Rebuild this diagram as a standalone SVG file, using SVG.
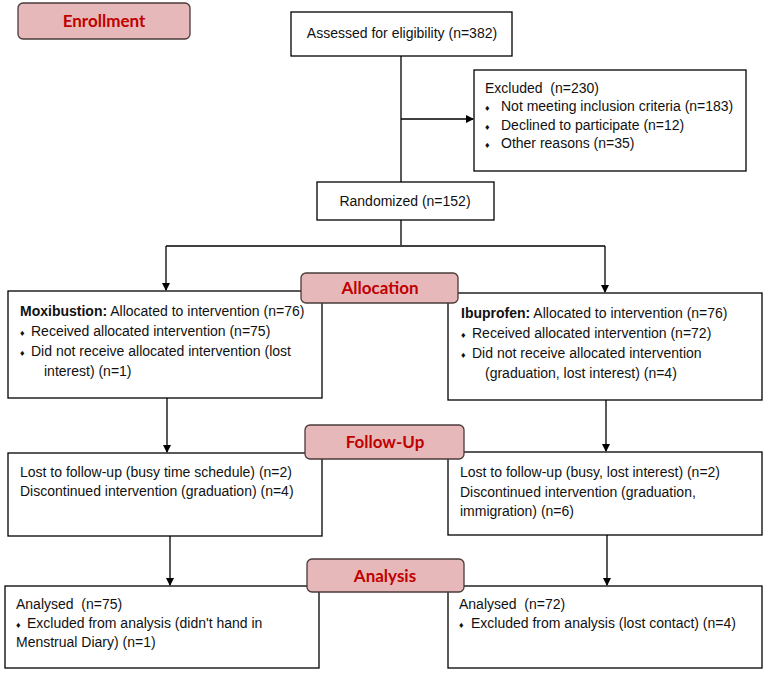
<svg xmlns="http://www.w3.org/2000/svg" width="768" height="674" viewBox="0 0 768 674">
<style>
.box{fill:#fff;stroke:#000;stroke-width:1.3}
.lab{fill:#e6b8b9;stroke:#4a3a3a;stroke-width:1.3}
.lt{font-family:Lato,"Open Sans",sans-serif;font-weight:bold;font-size:17px;fill:#c00000;text-anchor:middle}
.t{font-family:"Liberation Sans",Arial,sans-serif;font-size:14px;fill:#111;white-space:pre}
.b{font-size:9px}
.c{fill:none;stroke:#000;stroke-width:1.3}
</style>
<defs>
<marker id="ah" markerWidth="8" markerHeight="8" refX="7" refY="4" orient="auto" markerUnits="userSpaceOnUse">
<path d="M0,0 L8,4 L0,8 z" fill="#000"/>
</marker>
</defs>
<g id="connectors">
<path class="c" d="M401,56 V182"/>
<path class="c" d="M401,119 H473" marker-end="url(#ah)"/>
<path class="c" d="M401,220 V245"/>
<path class="c" d="M166,246 H605"/>
<path class="c" d="M166,246 V290" marker-end="url(#ah)"/>
<path class="c" d="M605,246 V292" marker-end="url(#ah)"/>
<path class="c" d="M167,398 V452" marker-end="url(#ah)"/>
<path class="c" d="M606,400 V451" marker-end="url(#ah)"/>
<path class="c" d="M170,536 V585" marker-end="url(#ah)"/>
<path class="c" d="M607,535 V585" marker-end="url(#ah)"/>
</g>
<g id="assessed">
<rect class="box" x="291" y="12" width="221" height="44"/>
<text class="t" x="402" y="38" text-anchor="middle">Assessed for eligibility (n=382)</text>
</g>
<g id="excluded">
<rect class="box" x="474" y="70" width="272" height="101"/>
<text class="t" x="485" y="93">Excluded  (n=230)</text>
<text class="t" x="485" y="111"><tspan class="b">♦</tspan><tspan x="501">Not meeting inclusion criteria (n=183)</tspan></text>
<text class="t" x="485" y="130"><tspan class="b">♦</tspan><tspan x="501">Declined to participate (n=12)</tspan></text>
<text class="t" x="485" y="148"><tspan class="b">♦</tspan><tspan x="501">Other reasons (n=35)</tspan></text>
</g>
<g id="randomized">
<rect class="box" x="317" y="182" width="177" height="38"/>
<text class="t" x="405" y="206" text-anchor="middle">Randomized (n=152)</text>
</g>
<g id="alloc-left">
<rect class="box" x="8" y="291" width="314" height="107"/>
<text class="t" x="20" y="316"><tspan font-weight="bold">Moxibustion:</tspan> Allocated to intervention (n=76)</text>
<text class="t" x="20" y="336"><tspan class="b">♦</tspan><tspan x="31">Received allocated intervention (n=75)</tspan></text>
<text class="t" x="20" y="356"><tspan class="b">♦</tspan><tspan x="31">Did not receive allocated intervention (lost</tspan></text>
<text class="t" x="44" y="376">interest) (n=1)</text>
</g>
<g id="alloc-right">
<rect class="box" x="448" y="293" width="314" height="107"/>
<text class="t" x="461" y="318"><tspan font-weight="bold">Ibuprofen:</tspan> Allocated to intervention (n=76)</text>
<text class="t" x="461" y="338"><tspan class="b">♦</tspan><tspan x="472">Received allocated intervention (n=72)</tspan></text>
<text class="t" x="461" y="358"><tspan class="b">♦</tspan><tspan x="472">Did not receive allocated intervention</tspan></text>
<text class="t" x="485" y="378">(graduation, lost interest) (n=4)</text>
</g>
<g id="follow-left">
<rect class="box" x="8" y="453" width="314" height="83"/>
<text class="t" x="20" y="477">Lost to follow-up (busy time schedule) (n=2)</text>
<text class="t" x="20" y="496">Discontinued intervention (graduation) (n=4)</text>
</g>
<g id="follow-right">
<rect class="box" x="448" y="452" width="314" height="83"/>
<text class="t" x="460" y="477">Lost to follow-up (busy, lost interest) (n=2)</text>
<text class="t" x="460" y="497">Discontinued intervention (graduation,</text>
<text class="t" x="460" y="516">immigration) (n=6)</text>
</g>
<g id="analysis-left">
<rect class="box" x="5" y="586" width="314" height="82"/>
<text class="t" x="16" y="609">Analysed  (n=75)</text>
<text class="t" x="16" y="628"><tspan class="b">♦</tspan><tspan x="27">Excluded from analysis (didn't hand in</tspan></text>
<text class="t" x="16" y="647">Menstrual Diary) (n=1)</text>
</g>
<g id="analysis-right">
<rect class="box" x="448" y="586" width="314" height="82"/>
<text class="t" x="459" y="609">Analysed  (n=72)</text>
<text class="t" x="459" y="628"><tspan class="b">♦</tspan><tspan x="471">Excluded from analysis (lost contact) (n=4)</tspan></text>
</g>
<g id="enrollment">
<rect class="lab" x="18" y="3" width="172" height="36" rx="5"/>
<text class="lt" x="104" y="27">Enrollment</text>
</g>
<g id="allocation">
<rect class="lab" x="301" y="273" width="157" height="30" rx="5"/>
<text class="lt" x="380" y="294">Allocation</text>
</g>
<g id="followup">
<rect class="lab" x="305" y="425" width="159" height="34" rx="5"/>
<text class="lt" x="385" y="448">Follow-Up</text>
</g>
<g id="analysis">
<rect class="lab" x="307" y="559" width="157" height="33" rx="5"/>
<text class="lt" x="385" y="582">Analysis</text>
</g>
</svg>
